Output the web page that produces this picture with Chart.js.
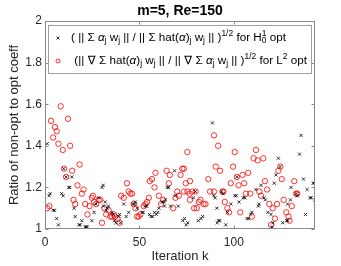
<!DOCTYPE html>
<html>
<head>
<meta charset="utf-8">
<script src="https://cdn.jsdelivr.net/npm/chart.js@4/dist/chart.umd.min.js"></script>
<style>
    body { margin: 0; background: #fff; }
    #wrap { position: relative; width: 341px; height: 266px; }
</style>
</head>
<body>
<div id="wrap"><canvas id="ratioChart"></canvas></div>
<script>
// values: iteration k and ratio
const crossK = [1.2, 2.2, 2.7, 4.4, 5.0, 6.2, 7.1, 8.8, 9.6, 9.9, 11.2, 12.6, 13.1, 14.2, 15.4, 16.0, 18.0, 18.6, 19.5, 21.3,
    21.8, 22.4, 24.8, 26.0, 27.0, 28.4, 30.2, 30.8, 31.0, 31.9, 32.5, 33.1, 33.6, 35.5, 36.2, 36.7, 37.5, 38.8, 39.5, 40.0,
    41.7, 43.0, 44.3, 46.5, 47.4, 47.9, 48.8, 51.4, 52.0, 53.2, 53.8, 55.3, 56.2, 57.0, 58.0, 58.9, 59.8, 60.3, 62.0, 62.9,
    63.3, 63.8, 64.7, 65.5, 66.5, 68.6, 69.1, 70.6, 73.0, 73.9, 74.8, 75.6, 78.6, 79.6, 81.2, 82.6, 83.5, 88.7, 89.4, 90.1,
    91.0, 91.2, 91.9, 92.6, 93.6, 94.3, 95.7, 96.6, 98.4, 100.5, 101.3, 101.6, 102.8, 105.0, 105.8, 107.0, 107.9, 109.0, 109.6, 111.7,
    113.0, 113.3, 114.4, 116.0, 116.7, 118.0, 119.7, 120.2, 120.7, 121.4, 122.3, 123.6, 124.5, 125.9, 128.0, 128.5, 128.5, 130.0, 130.3, 133.0,
    133.6, 134.8, 135.6, 136.9, 138.0, 138.8, 140.4, 141.0, 142.0, 142.6, 142.9];
const crossRatio = [1.41, 1.16, 1.17, 1.09, 1.09, 1.05, 1.02, 1.17, 1.16, 1.29, 1.25, 1.20, 1.20, 1.25, 1.10, 1.06, 1.02, 1.02, 1.04, 1.01,
    1.01, 1.01, 1.04, 1.08, 1.12, 1.15, 1.20, 1.21, 1.11, 1.13, 1.09, 1.10, 1.11, 1.08, 1.07, 1.04, 1.03, 1.06, 1.07, 1.03,
    1.12, 1.06, 1.08, 1.12, 1.12, 1.13, 1.10, 1.08, 1.08, 1.11, 1.11, 1.07, 1.06, 1.06, 1.08, 1.07, 1.08, 1.10, 1.13, 1.13,
    1.11, 1.14, 1.20, 1.20, 1.11, 1.28, 1.16, 1.11, 1.04, 1.05, 1.02, 1.03, 1.15, 1.18, 1.04, 1.05, 1.06, 1.51, 1.16, 1.15,
    1.10, 1.03, 1.04, 1.04, 1.18, 1.17, 1.02, 1.08, 1.12, 1.16, 1.16, 1.25, 1.13, 1.15, 1.15, 1.05, 1.05, 1.07, 1.08, 1.19,
    1.11, 1.12, 1.21, 1.15, 1.14, 1.08, 1.07, 1.01, 1.03, 1.22, 1.26, 1.34, 1.30, 1.03, 1.04, 1.04, 1.12, 1.14, 1.20, 1.17,
    1.16, 1.36, 1.45, 1.24, 1.07, 1.19, 1.15, 1.15, 1.22, 1.22, 1.14];

const circleK = [1.2, 2.3, 3.2, 4.3, 5.3, 6.2, 7.1, 8.3, 9.4, 10.1, 11.2, 12.2, 13.3, 14.4, 15.1, 16.0, 17.2, 18.3, 19.5, 20.4,
    21.3, 22.5, 23.6, 24.8, 25.4, 26.0, 27.1, 28.4, 29.3, 30.2, 31.4, 32.4, 33.7, 34.6, 35.5, 36.4, 37.2, 38.5, 39.5, 40.3,
    41.7, 43.4, 44.3, 45.2, 46.1, 47.0, 47.9, 48.8, 49.6, 50.5, 52.3, 53.2, 54.1, 55.0, 55.5, 56.7, 58.0, 58.5, 60.3, 61.5,
    62.6, 64.4, 65.6, 66.1, 67.9, 69.1, 70.0, 70.9, 71.8, 72.7, 73.6, 74.5, 75.4, 76.8, 76.8, 73.6, 75.4, 76.6, 78.0, 79.0,
    79.8, 80.4, 81.5, 82.3, 84.0, 85.0, 86.5, 87.4, 89.5, 89.5, 90.4, 91.7, 92.7, 94.0, 94.5, 95.2, 96.6, 97.5, 98.4, 99.6,
    100.5, 101.6, 102.5, 103.4, 104.6, 105.5, 106.4, 107.6, 108.7, 109.6, 110.5, 111.7, 112.6, 113.5, 114.4, 115.6, 116.5, 117.6, 118.8, 119.7,
    120.6, 121.8, 122.9, 123.6, 124.6, 125.4, 126.4, 127.8, 129.0, 129.5, 130.7, 132.0, 133.0, 133.6];
const circleRatio = [1.10, 1.11, 1.52, 1.44, 1.49, 1.47, 1.41, 1.59, 1.38, 1.29, 1.25, 1.53, 1.40, 1.28, 1.14, 1.12, 1.21, 1.31, 1.17, 1.19,
    1.12, 1.07, 1.11, 1.15, 1.16, 1.13, 1.12, 1.14, 1.14, 1.03, 1.10, 1.07, 1.09, 1.06, 1.06, 1.07, 1.06, 1.05, 1.03, 1.16,
    1.15, 1.22, 1.18, 1.17, 1.17, 1.12, 1.10, 1.06, 1.06, 1.07, 1.11, 1.12, 1.13, 1.15, 1.23, 1.24, 1.20, 1.27, 1.16, 1.12,
    1.14, 1.28, 1.22, 1.26, 1.10, 1.15, 1.18, 1.16, 1.26, 1.29, 1.29, 1.22, 1.37, 1.23, 1.14, 1.18, 1.18, 1.17, 1.18, 1.10,
    1.18, 1.10, 1.13, 1.14, 1.12, 1.12, 1.24, 1.18, 1.18, 1.45, 1.30, 1.40, 1.28, 1.18, 1.18, 1.13, 1.10, 1.08, 1.22, 1.30,
    1.37, 1.25, 1.21, 1.08, 1.26, 1.22, 1.17, 1.27, 1.17, 1.06, 1.34, 1.38, 1.33, 1.18, 1.16, 1.34, 1.23, 1.19, 1.12, 1.02,
    1.10, 1.05, 1.12, 1.28, 1.30, 1.24, 1.14, 1.08, 1.06, 1.04, 1.11, 1.23, 1.17, 1.17];

const xTicks = [0, 50, 100];
const yTicks = [1, 1.2, 1.4, 1.6, 1.8, 2];

const FONT = '"Liberation Sans", Arial, "DejaVu Sans", sans-serif';
const AXIS_COLOR = '#8a8a8a';

// legend rows as [text, style]; style: '' normal, 'i' italic, 'sub', 'sup', 'supsub' ("sup|sub"), 'nab' nabla
const legendRows = [
    [['( || Σ ', ''], ['α', 'i'], ['j', 'sub'], [' w', ''], ['j', 'sub'], [' || / || Σ hat(', ''], ['α', 'i'], [')', ''],
     ['j', 'sub'], [' w', ''], ['j', 'sub'], [' || )', ''], ['1/2', 'sup'], [' for H', ''], ['1|0', 'supsub'], [' opt', '']],
    [[' (|| ', ''], ['∇', 'nab'], [' Σ hat(', ''], ['α', 'i'], [')', ''], ['j', 'sub'], [' w', ''], ['j', 'sub'], [' || / || ', ''],
     ['∇', 'nab'], [' Σ ', ''], ['α', 'i'], ['j', 'sub'], [' w', ''], ['j', 'sub'], [' || )', ''], ['1/2', 'sup'], [' for L', ''], ['2', 'sup'], [' opt', '']]
];

// writes (or only measures) a row of rich text, returns its width
function drawRich(ctx, x, y, segs, size, nabPad, draw) {
    const x0 = x;
    const small = size * 0.72;
    ctx.textBaseline = 'middle';
    ctx.textAlign = 'left';
    segs.forEach(([t, st]) => {
        if (st === 'sub' || st === 'sup') {
            ctx.font = small + 'px ' + FONT;
            if (draw) ctx.fillText(t, x, y + (st === 'sub' ? 3 : -4));
            x += ctx.measureText(t).width;
        } else if (st === 'supsub') {
            const [a, b] = t.split('|');
            ctx.font = small + 'px ' + FONT;
            if (draw) {
                ctx.fillText(a, x, y - 4);
                ctx.fillText(b, x, y + 3);
            }
            x += Math.max(ctx.measureText(a).width, ctx.measureText(b).width);
        } else {
            ctx.font = (st === 'i' ? 'italic ' : '') + size + 'px ' + FONT;
            if (draw) ctx.fillText(t, x + (st === 'nab' ? nabPad / 2 : 0), y);
            x += ctx.measureText(t).width + (st === 'nab' ? nabPad : 0);
        }
    });
    return x - x0;
}

// box around the axes with inward ticks, matlab style
const framePlugin = {
    id: 'frame',
    afterDatasetsDraw(chart) {
        const { ctx, chartArea: a, scales: { x, y } } = chart;
        const l = Math.round(a.left) + 0.5, r = Math.round(a.right) - 0.5;
        const t = Math.round(a.top) + 0.5, b = Math.round(a.bottom) - 0.5;
        ctx.save();
        ctx.strokeStyle = AXIS_COLOR;
        ctx.lineWidth = 1;
        ctx.strokeRect(l, t, r - l, b - t);
        ctx.beginPath();
        xTicks.forEach(v => {
            const px = Math.round(x.getPixelForValue(v)) + 0.5;
            ctx.moveTo(px, b); ctx.lineTo(px, b - 3);
            ctx.moveTo(px, t); ctx.lineTo(px, t + 3);
        });
        yTicks.forEach(v => {
            const py = Math.round(y.getPixelForValue(v)) + 0.5;
            ctx.moveTo(l, py); ctx.lineTo(l + 3, py);
            ctx.moveTo(r, py); ctx.lineTo(r - 3, py);
        });
        ctx.stroke();
        ctx.restore();
    }
};

// legend with sub/superscripts, drawn by hand
const legendPlugin = {
    id: 'texLegend',
    afterDraw(chart) {
        const ctx = chart.ctx;
        const bx = 48.5, by = 25.5, bw = 263, bh = 48;
        ctx.save();
        ctx.fillStyle = '#fff';
        ctx.fillRect(bx, by, bw, bh);
        ctx.strokeStyle = '#a0a0a0';
        ctx.lineWidth = 1;
        ctx.strokeRect(bx, by, bw, bh);

        // markers
        ctx.lineWidth = 0.8;
        ctx.strokeStyle = '#000';
        ctx.beginPath();
        ctx.moveTo(56.5, 36.5); ctx.lineTo(59.5, 39.5);
        ctx.moveTo(59.5, 36.5); ctx.lineTo(56.5, 39.5);
        ctx.stroke();
        ctx.strokeStyle = '#ff0000';
        ctx.beginPath();
        ctx.arc(58, 61, 2, 0, Math.PI * 2);
        ctx.stroke();

        // fit the first row to its width in the picture, then widen the nablas of the second
        const w1 = drawRich(ctx, 0, 0, legendRows[0], 11, 0, false);
        const size = 11 * 215 / w1;
        const w2 = drawRich(ctx, 0, 0, legendRows[1], size, 0, false);
        const nabPad = Math.max(0, (236 - w2) / 2);

        ctx.fillStyle = '#000';
        drawRich(ctx, 71, 38, legendRows[0], size, 0, true);
        drawRich(ctx, 71, 60.5, legendRows[1], size, nabPad, true);
        ctx.restore();
    }
};

document.addEventListener('DOMContentLoaded', function() {
    const crossPoints = crossK.map((k, i) => ({ x: k, y: crossRatio[i] }));
    const circlePoints = circleK.map((k, i) => ({ x: k, y: circleRatio[i] }));

    new Chart(document.getElementById('ratioChart'), {
        type: 'scatter',
        data: {
            datasets: [
                {
                    label: 'H10 opt',
                    data: crossPoints,
                    pointStyle: 'crossRot',
                    radius: 2.2,
                    borderColor: '#000',
                    borderWidth: 0.8,
                    backgroundColor: '#000'
                },
                {
                    label: 'L2 opt',
                    data: circlePoints,
                    pointStyle: 'circle',
                    radius: 2.7,
                    borderColor: '#ff0000',
                    borderWidth: 0.8,
                    backgroundColor: 'rgba(0,0,0,0)'
                }
            ]
        },
        options: {
            responsive: true,
            maintainAspectRatio: false,
            animation: false,
            events: [],
            layout: { padding: { left: 0, right: 26, top: 0, bottom: 0 } },
            plugins: {
                legend: { display: false },
                tooltip: { enabled: false },
                title: {
                    display: true,
                    text: 'm=5, Re=150',
                    fullSize: false,
                    color: '#000',
                    font: { family: FONT, size: 14, weight: 'bold' },
                    padding: { top: 3, bottom: 1.2 }
                }
            },
            scales: {
                x: {
                    type: 'linear',
                    min: 0,
                    max: 143,
                    grid: { display: false, drawTicks: false },
                    border: { display: false },
                    afterBuildTicks: s => { s.ticks = xTicks.map(v => ({ value: v })); },
                    afterFit: s => { s.height = 37; },
                    ticks: {
                        color: '#262626',
                        font: { family: FONT, size: 12 },
                        padding: 6,
                        maxRotation: 0,
                        autoSkip: false,
                        callback: v => String(v)
                    },
                    title: {
                        display: true,
                        text: 'Iteration k',
                        color: '#262626',
                        font: { family: FONT, size: 13 },
                        padding: { top: 0, bottom: 2 }
                    }
                },
                y: {
                    type: 'linear',
                    min: 1,
                    max: 2,
                    grid: { display: false, drawTicks: false },
                    border: { display: false },
                    afterBuildTicks: s => { s.ticks = yTicks.map(v => ({ value: v })); },
                    afterFit: s => { s.width = 45; },
                    ticks: {
                        color: '#262626',
                        font: { family: FONT, size: 12 },
                        padding: 3,
                        autoSkip: false,
                        callback: v => String(v)
                    },
                    title: {
                        display: true,
                        text: 'Ratio of non-opt to opt coeff',
                        color: '#262626',
                        font: { family: FONT, size: 13 },
                        padding: { top: 7, bottom: 0 }
                    }
                }
            }
        },
        plugins: [framePlugin, legendPlugin]
    });
});
</script>
</body>
</html>
